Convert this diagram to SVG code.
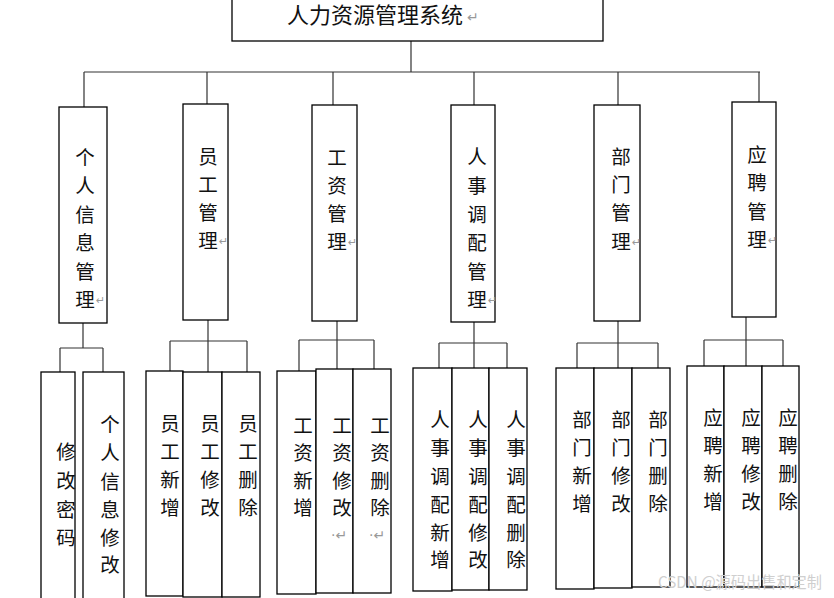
<svg xmlns="http://www.w3.org/2000/svg" width="834" height="598" viewBox="0 0 834 598">
<style>
.box{fill:#fff;stroke:#000;stroke-width:1.3}
.t{font-family:"Noto Sans CJK SC","Noto Sans",sans-serif;font-size:19.5px;text-anchor:middle;fill:#111}
.ret{font-family:"DejaVu Sans",sans-serif;font-size:11px;fill:#999;text-anchor:start}
.conn{stroke:#333;fill:none;stroke-width:1.2}
.wm{font-family:"Noto Sans CJK SC","Noto Sans",sans-serif;font-size:16px;fill:#cfcfcf}
</style>
<rect width="834" height="598" fill="#fff"/>
<g id="connectors" class="conn">
<path d="M411 41V72M84 72H760M84 72V107M207 72V104M333 72V105M474 72V105M618 72V105M759 72V102"/>
<path d="M83 323V348M60 348H103M60 348V372M103 348V372"/>
<path d="M208 320V341M170 341H247M170 341V371M208 341V372M247 341V372"/>
<path d="M337 321V340M299 340H374M299 340V371M337 340V369M374 340V369"/>
<path d="M474 322V343M439 343H507M439 343V368M474 343V368M507 343V368"/>
<path d="M618 321V343M577 343H658M577 343V368M618 343V368M658 343V368"/>
<path d="M746 317V340M704 340H783M704 340V366M746 340V366M783 340V366"/>
</g>
<g id="root">
<rect class="box" x="232" y="-2" width="371" height="43"/>
<text class="t" x="287" y="23" style="text-anchor:start;font-size:22px">人力资源管理系统</text>
<text class="ret" x="467" y="22" style="font-size:14px">↵</text>
</g>
<g id="n1">
<rect class="box" x="59" y="107" width="48" height="216"/>
<text class="t"><tspan x="85" y="165">个</tspan><tspan x="85" y="193">人</tspan><tspan x="85" y="222">信</tspan><tspan x="85" y="250">息</tspan><tspan x="85" y="279">管</tspan><tspan x="85" y="307">理</tspan></text>
<text class="ret" x="96" y="304">↵</text>
</g>
<g id="n2">
<rect class="box" x="183" y="104" width="45" height="216"/>
<text class="t"><tspan x="208" y="164">员</tspan><tspan x="208" y="192">工</tspan><tspan x="208" y="220">管</tspan><tspan x="208" y="248">理</tspan></text>
<text class="ret" x="219" y="245">↵</text>
</g>
<g id="n3">
<rect class="box" x="312" y="105" width="45" height="216"/>
<text class="t"><tspan x="337" y="165">工</tspan><tspan x="337" y="193">资</tspan><tspan x="337" y="221">管</tspan><tspan x="337" y="249">理</tspan></text>
<text class="ret" x="348" y="246">↵</text>
</g>
<g id="n4">
<rect class="box" x="451" y="105" width="44" height="217"/>
<text class="t"><tspan x="477" y="164">人</tspan><tspan x="477" y="193">事</tspan><tspan x="477" y="222">调</tspan><tspan x="477" y="250">配</tspan><tspan x="477" y="279">管</tspan><tspan x="477" y="307">理</tspan></text>
<text class="ret" x="488" y="304">↵</text>
</g>
<g id="n5">
<rect class="box" x="594" y="105" width="46" height="216"/>
<text class="t"><tspan x="621" y="164">部</tspan><tspan x="621" y="192">门</tspan><tspan x="621" y="220">管</tspan><tspan x="621" y="249">理</tspan></text>
<text class="ret" x="632" y="246">↵</text>
</g>
<g id="n6">
<rect class="box" x="732" y="102" width="44" height="215"/>
<text class="t"><tspan x="757" y="162">应</tspan><tspan x="757" y="190">聘</tspan><tspan x="757" y="219">管</tspan><tspan x="757" y="247">理</tspan></text>
<text class="ret" x="768" y="244">↵</text>
</g>
<g id="l1">
<rect class="box" x="41" y="372" width="34" height="232"/>
<text class="t"><tspan x="66" y="459">修</tspan><tspan x="66" y="488">改</tspan><tspan x="66" y="517">密</tspan><tspan x="66" y="545">码</tspan></text>
</g>
<g id="l2">
<rect class="box" x="83" y="372" width="41" height="232"/>
<text class="t"><tspan x="110" y="432">个</tspan><tspan x="110" y="460">人</tspan><tspan x="110" y="489">信</tspan><tspan x="110" y="517">息</tspan><tspan x="110" y="545">修</tspan><tspan x="110" y="572">改</tspan></text>
</g>
<g id="l3">
<rect class="box" x="146" y="371" width="37" height="225"/>
<text class="t"><tspan x="170" y="431">员</tspan><tspan x="170" y="459">工</tspan><tspan x="170" y="487">新</tspan><tspan x="170" y="515">增</tspan></text>
</g>
<g id="l4">
<rect class="box" x="183" y="372" width="39" height="225"/>
<text class="t"><tspan x="210" y="431">员</tspan><tspan x="210" y="459">工</tspan><tspan x="210" y="487">修</tspan><tspan x="210" y="515">改</tspan></text>
</g>
<g id="l5">
<rect class="box" x="222" y="372" width="38" height="225"/>
<text class="t"><tspan x="248" y="431">员</tspan><tspan x="248" y="459">工</tspan><tspan x="248" y="487">删</tspan><tspan x="248" y="515">除</tspan></text>
</g>
<g id="l6">
<rect class="box" x="277" y="371" width="39" height="223"/>
<text class="t"><tspan x="303" y="433">工</tspan><tspan x="303" y="460">资</tspan><tspan x="303" y="488">新</tspan><tspan x="303" y="515">增</tspan></text>
</g>
<g id="l7">
<rect class="box" x="316" y="369" width="37" height="224"/>
<text class="t"><tspan x="342" y="433">工</tspan><tspan x="342" y="460">资</tspan><tspan x="342" y="488">修</tspan><tspan x="342" y="515">改</tspan></text>
<text class="ret" x="331" y="540" style="font-size:14px">·↵</text>
</g>
<g id="l8">
<rect class="box" x="353" y="369" width="38" height="224"/>
<text class="t"><tspan x="380" y="433">工</tspan><tspan x="380" y="460">资</tspan><tspan x="380" y="488">删</tspan><tspan x="380" y="515">除</tspan></text>
<text class="ret" x="369" y="540" style="font-size:14px">·↵</text>
</g>
<g id="l9">
<rect class="box" x="413" y="368" width="39" height="223"/>
<text class="t"><tspan x="440" y="427">人</tspan><tspan x="440" y="455">事</tspan><tspan x="440" y="484">调</tspan><tspan x="440" y="512">配</tspan><tspan x="440" y="540">新</tspan><tspan x="440" y="567">增</tspan></text>
</g>
<g id="l10">
<rect class="box" x="452" y="368" width="37" height="222"/>
<text class="t"><tspan x="478" y="427">人</tspan><tspan x="478" y="455">事</tspan><tspan x="478" y="484">调</tspan><tspan x="478" y="512">配</tspan><tspan x="478" y="540">修</tspan><tspan x="478" y="567">改</tspan></text>
</g>
<g id="l11">
<rect class="box" x="489" y="368" width="38" height="222"/>
<text class="t"><tspan x="516" y="427">人</tspan><tspan x="516" y="455">事</tspan><tspan x="516" y="484">调</tspan><tspan x="516" y="512">配</tspan><tspan x="516" y="540">删</tspan><tspan x="516" y="567">除</tspan></text>
</g>
<g id="l12">
<rect class="box" x="556" y="368" width="38" height="221"/>
<text class="t"><tspan x="582" y="427">部</tspan><tspan x="582" y="455">门</tspan><tspan x="582" y="483">新</tspan><tspan x="582" y="511">增</tspan></text>
</g>
<g id="l13">
<rect class="box" x="594" y="368" width="38" height="220"/>
<text class="t"><tspan x="621" y="427">部</tspan><tspan x="621" y="455">门</tspan><tspan x="621" y="483">修</tspan><tspan x="621" y="511">改</tspan></text>
</g>
<g id="l14">
<rect class="box" x="632" y="368" width="38" height="219"/>
<text class="t"><tspan x="658" y="427">部</tspan><tspan x="658" y="455">门</tspan><tspan x="658" y="483">删</tspan><tspan x="658" y="511">除</tspan></text>
</g>
<g id="l15">
<rect class="box" x="687" y="366" width="37" height="221"/>
<text class="t"><tspan x="713" y="425">应</tspan><tspan x="713" y="453">聘</tspan><tspan x="713" y="481">新</tspan><tspan x="713" y="509">增</tspan></text>
</g>
<g id="l16">
<rect class="box" x="724" y="366" width="38" height="221"/>
<text class="t"><tspan x="751" y="425">应</tspan><tspan x="751" y="453">聘</tspan><tspan x="751" y="481">修</tspan><tspan x="751" y="509">改</tspan></text>
</g>
<g id="l17">
<rect class="box" x="762" y="366" width="37" height="221"/>
<text class="t"><tspan x="788" y="425">应</tspan><tspan x="788" y="453">聘</tspan><tspan x="788" y="481">删</tspan><tspan x="788" y="509">除</tspan></text>
</g>
<text class="wm" x="658" y="588" textLength="164" lengthAdjust="spacingAndGlyphs">CSDN @源码出售和定制</text>
</svg>
